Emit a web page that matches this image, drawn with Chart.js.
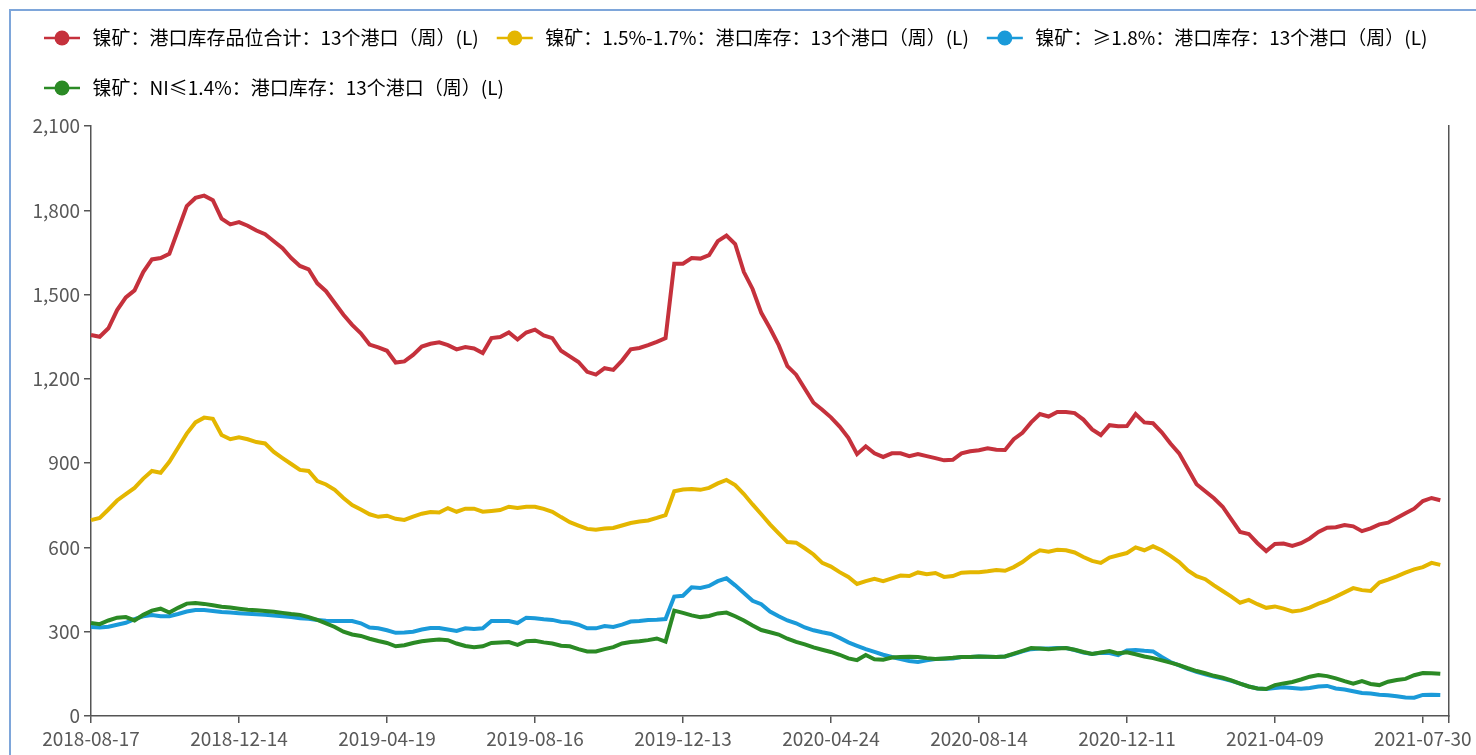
<!DOCTYPE html>
<html>
<head>
<meta charset="utf-8">
<title>镍矿港口库存</title>
<script src="https://cdn.jsdelivr.net/npm/chart.js@4.4.1/dist/chart.umd.min.js"></script>
<style>
  html, body { margin: 0; padding: 0; background: #fff; overflow: hidden; }
  #frame { position: absolute; left: 9px; top: 9px; width: 1490px; height: 770px;
           border-left: 2px solid #7ea6da; border-top: 2px solid #7ea6da; }
  #wrapper { position: absolute; left: 0; top: 0; width: 1476px; height: 755px; }
</style>
</head>
<body>
<div id="frame"></div>
<div id="wrapper"><canvas id="canvas"></canvas></div>
<script>
// labelled dates on the x axis (one every 17 weeks)
var tickDates = ['2018-08-17', '2018-12-14', '2019-04-19', '2019-08-16', '2019-12-13',
                 '2020-04-24', '2020-08-14', '2020-12-11', '2021-04-09', '2021-07-30'];
var tickEvery = 17;

var seriesNames = [
  '镍矿：港口库存品位合计：13个港口（周）(L)',
  '镍矿：1.5%-1.7%：港口库存：13个港口（周）(L)',
  '镍矿：≥1.8%：港口库存：13个港口（周）(L)',
  '镍矿：NI≤1.4%：港口库存：13个港口（周）(L)'
];
var seriesColors = ['#c5313c', '#e4b600', '#1a9ad9', '#2b8a25'];

// 港口库存品位合计
var totalStock = [
  1356,1350,1380,1445,1490,1515,1580,1625,1630,1645,
  1730,1815,1844,1852,1836,1770,1750,1758,1745,1728,
  1715,1690,1665,1630,1602,1590,1540,1512,1470,1428,
  1392,1362,1322,1312,1300,1258,1262,1285,1315,1325,
  1330,1320,1305,1313,1308,1292,1345,1349,1365,1340,
  1365,1375,1355,1345,1300,1280,1260,1225,1215,1238,
  1232,1265,1305,1310,1320,1332,1345,1610,1610,1630,
  1628,1640,1690,1710,1680,1580,1520,1435,1380,1320,
  1245,1215,1165,1115,1090,1063,1030,990,932,960,
  935,922,935,935,925,932,925,918,910,912,
  935,942,946,953,948,947,985,1008,1045,1075,
  1066,1082,1082,1078,1055,1020,1000,1035,1031,1032,
  1075,1045,1042,1010,970,935,880,825,800,775,
  745,700,655,648,615,587,612,614,605,615,
  632,655,670,672,680,675,658,668,682,688,
  705,722,738,765,776,768
];

// 1.5%-1.7%
var midGrade = [
  697,705,735,767,790,812,845,872,866,905,
  955,1005,1045,1062,1058,1000,985,992,985,975,
  970,940,918,897,876,872,836,824,805,776,
  751,735,718,709,713,702,698,710,720,726,
  724,740,727,738,738,727,730,733,745,740,
  745,745,737,727,708,690,678,666,663,667,
  669,678,687,692,696,705,715,800,806,808,
  805,812,828,840,822,790,753,718,682,650,
  619,617,597,575,545,532,512,495,470,480,
  488,480,490,500,498,511,505,509,495,498,
  510,512,512,515,520,517,530,548,572,590,
  585,592,590,582,566,552,545,564,572,580,
  600,590,604,590,570,548,518,498,487,465,
  445,425,403,413,398,385,390,382,372,376,
  386,400,411,425,440,455,448,445,475,485,
  497,510,522,530,545,538
];

// ≥1.8%
var highGrade = [
  317,315,318,325,332,345,355,359,355,355,
  363,372,377,377,374,370,368,366,364,362,
  360,358,355,352,348,346,342,339,338,338,
  338,330,315,312,305,296,297,300,308,313,
  313,308,303,312,310,312,338,338,338,331,
  350,348,344,342,335,333,325,312,312,320,
  317,325,336,338,342,343,345,425,428,458,
  456,463,480,490,465,438,410,398,372,355,
  340,330,315,305,298,292,278,262,250,238,
  228,218,210,203,196,192,198,203,204,205,
  210,210,212,211,210,212,220,230,238,240,
  240,242,242,235,226,221,225,224,217,233,
  235,232,230,210,192,180,168,157,148,140,
  133,125,115,105,98,96,100,102,100,97,
  100,105,107,98,94,88,82,80,76,74,
  70,66,65,75,76,75
];

// NI≤1.4%
var lowGrade = [
  331,327,340,350,352,340,360,375,382,368,
  385,400,402,399,394,389,386,382,378,376,
  374,371,367,363,360,352,342,330,317,300,
  290,285,275,267,260,248,252,260,266,270,
  272,270,258,249,245,248,260,262,263,253,
  266,268,262,258,250,248,238,230,230,238,
  245,258,263,266,270,276,265,375,367,358,
  352,356,365,368,355,340,322,306,298,290,
  275,264,255,244,236,228,218,205,199,217,
  202,200,208,210,211,210,206,203,205,207,
  210,210,212,211,210,212,222,232,242,240,
  238,240,242,236,228,221,226,231,223,227,
  220,212,206,198,190,181,170,160,152,143,
  136,127,115,105,98,96,110,116,121,130,
  140,146,142,134,124,115,124,114,110,122,
  128,132,145,153,152,150
];

var allSeries = [totalStock, midGrade, highGrade, lowGrade];
var drawOrder = [0, 1, 3, 2]; // green is drawn over blue

// category labels: weekly dates counted from each labelled date, plus one empty slot at the end
var labels = [];
var nCats = totalStock.length + 1;
for (var i = 0; i < nCats; i++) {
  var base = new Date(tickDates[Math.floor(i / tickEvery)] + 'T00:00:00Z');
  base.setUTCDate(base.getUTCDate() + 7 * (i % tickEvery));
  labels.push(base.toISOString().slice(0, 10));
}

var axisColor = '#555555';
var tickFont = { family: '"Noto Sans CJK SC", "Noto Sans", sans-serif', size: 19 };

var datasets = allSeries.map(function(values, k) {
  return {
    label: seriesNames[k],
    data: values.concat([null]),
    borderColor: seriesColors[k],
    backgroundColor: seriesColors[k],
    borderWidth: 4,
    pointRadius: 0,
    pointHoverRadius: 0,
    tension: 0,
    fill: false,
    order: drawOrder[k]
  };
});

// legend markers: short line with a dot, drawn where the legend left room for them
var legendMarkers = {
  id: 'legendMarkers',
  afterDraw: function(chart) {
    var lg = chart.legend;
    if (!lg || !lg.legendHitBoxes) return;
    var ctx = chart.ctx;
    lg.legendHitBoxes.forEach(function(box, i) {
      var cx = box.left + 21;
      var cy = box.top + box.height / 2;
      ctx.save();
      ctx.strokeStyle = seriesColors[i];
      ctx.fillStyle = seriesColors[i];
      ctx.lineWidth = 2.5;
      ctx.beginPath();
      ctx.moveTo(cx - 18, cy);
      ctx.lineTo(cx + 18, cy);
      ctx.stroke();
      ctx.beginPath();
      ctx.arc(cx, cy, 7.5, 0, Math.PI * 2);
      ctx.fill();
      ctx.restore();
    });
  }
};

// legend box height so the plot starts right under it
var legendSpace = {
  id: 'legendSpace',
  beforeInit: function(chart) {
    var fitValue = chart.legend.fit;
    chart.legend.fit = function fit() {
      fitValue.bind(chart.legend)();
      this.height = 120.5;
    };
  }
};

var ctx = document.getElementById('canvas');
var myChart = new Chart(ctx, {
  type: 'line',
  data: { labels: labels, datasets: datasets },
  options: {
    responsive: true,
    maintainAspectRatio: false,
    animation: false,
    devicePixelRatio: 1,
    layout: { padding: { top: 5.5, left: 26, right: 27, bottom: 0 } },
    plugins: {
      tooltip: { enabled: false },
      legend: {
        position: 'top',
        align: 'start',
        labels: {
          boxWidth: 42,
          boxHeight: 35,
          padding: 15,
          color: '#404040',
          font: { family: '"Noto Sans CJK SC", "Noto Sans", sans-serif', size: 19 },
          generateLabels: function(chart) {
            return chart.data.datasets.map(function(ds, i) {
              return {
                text: ds.label,
                fillStyle: 'rgba(0,0,0,0)',
                strokeStyle: 'rgba(0,0,0,0)',
                lineWidth: 0,
                hidden: !chart.isDatasetVisible(i),
                datasetIndex: i
              };
            });
          }
        }
      }
    },
    scales: {
      x: {
        type: 'category',
        offset: false,
        afterFit: function(scale) { scale.height = 39; },
        grid: { display: true, drawOnChartArea: false, drawTicks: true, tickLength: 7, color: axisColor, lineWidth: 1.5 },
        border: { display: true, color: axisColor, width: 1.5 },
        ticks: {
          autoSkip: false,
          maxRotation: 0,
          minRotation: 0,
          padding: 4,
          color: '#595959',
          font: tickFont,
          callback: function(val, index) {
            if (index % tickEvery === 0) return this.getLabelForValue(val);
            if (index === nCats - 1) return '';
            return null;
          }
        }
      },
      y: {
        position: 'left',
        min: 0,
        max: 2100,
        afterFit: function(scale) { scale.width = 65; },
        grid: { display: true, drawOnChartArea: false, drawTicks: true, tickLength: 7, color: axisColor, lineWidth: 1.5 },
        border: { display: true, color: axisColor, width: 1.5 },
        ticks: { stepSize: 300, padding: 4, color: '#595959', font: tickFont }
      },
      y2: {
        position: 'right',
        afterFit: function(scale) { scale.width = 0; },
        grid: { display: true, drawOnChartArea: false, drawTicks: false, color: axisColor },
        border: { display: true, color: axisColor, width: 1.5 },
        ticks: { display: false }
      }
    }
  },
  plugins: [legendSpace, legendMarkers]
});
</script>
</body>
</html>
